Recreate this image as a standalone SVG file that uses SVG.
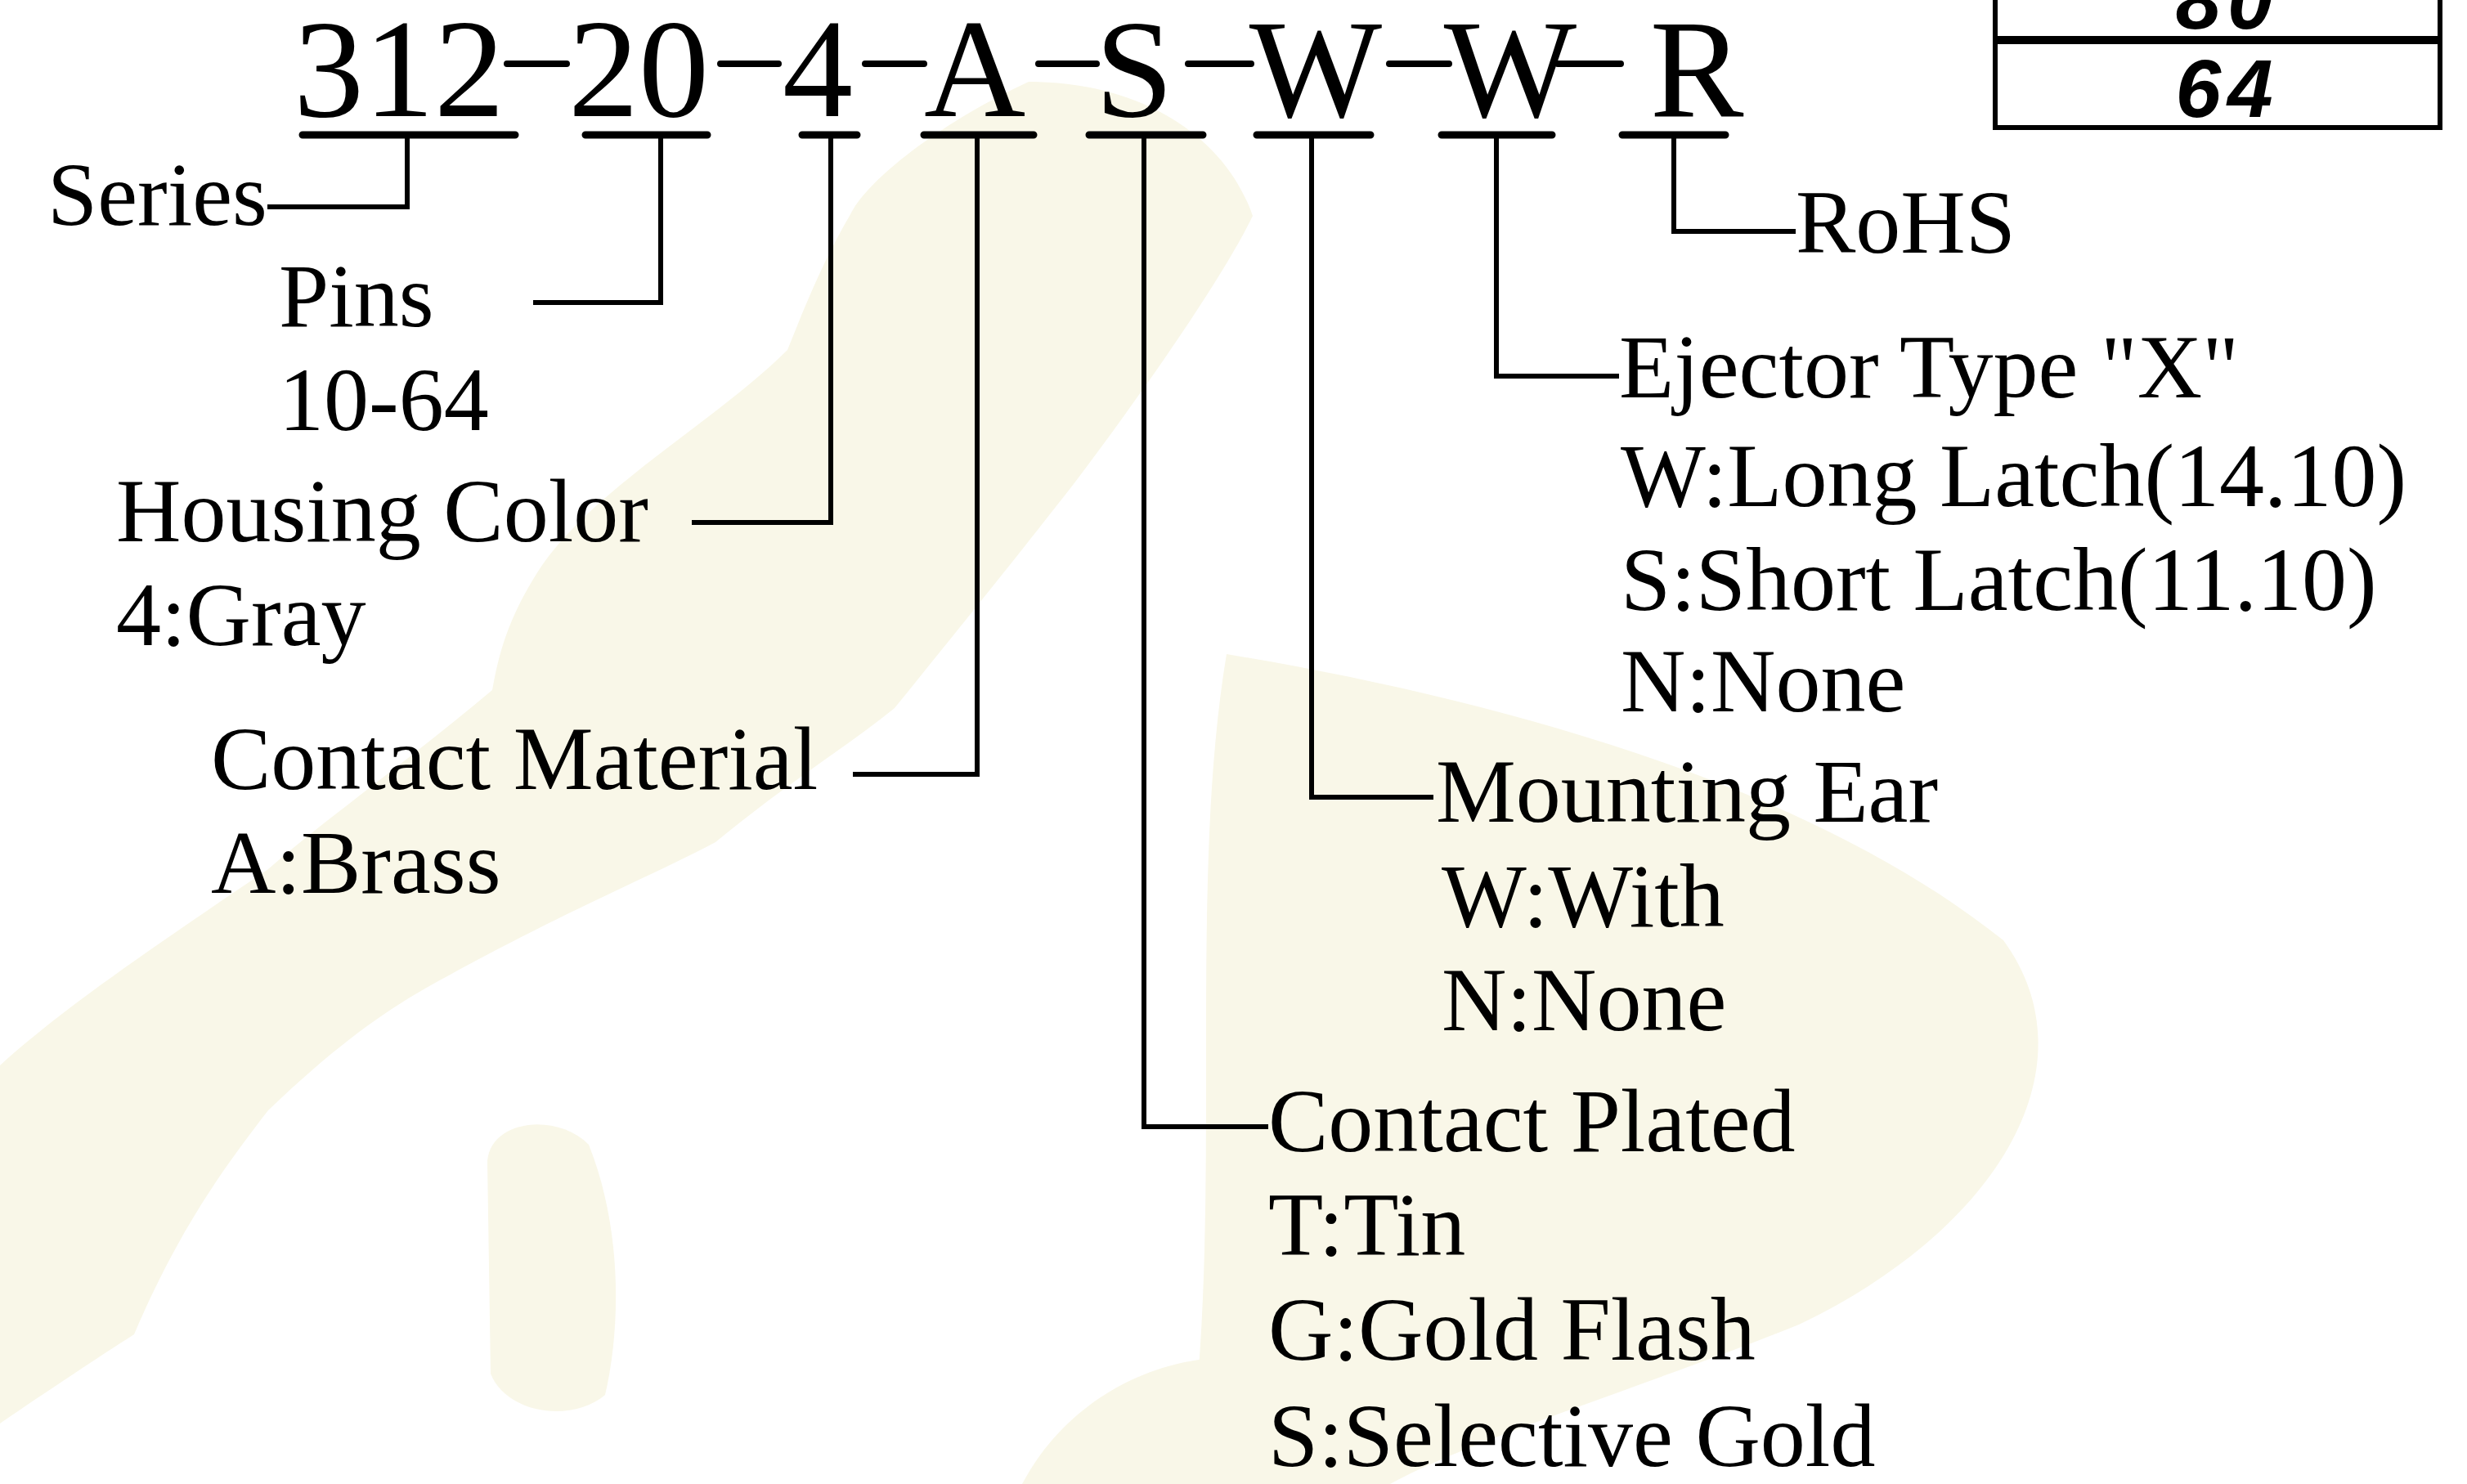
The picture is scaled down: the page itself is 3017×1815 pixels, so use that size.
<svg xmlns="http://www.w3.org/2000/svg" width="3017" height="1815" viewBox="0 0 3017 1815">
<style>
.pn{font-family:"Liberation Serif","Times New Roman",serif;font-size:172px;fill:#000;text-anchor:middle}
.lb{font-family:"Liberation Serif","Times New Roman",serif;font-size:110px;fill:#000}
.tb{font-family:"Liberation Sans",Arial,sans-serif;font-size:100px;font-weight:bold;font-style:italic;fill:#000;text-anchor:middle;letter-spacing:8px}
.ul{stroke:#000;stroke-width:9;stroke-linecap:round;fill:none}
.ds{stroke:#000;stroke-width:8;stroke-linecap:round;fill:none}
.cn{stroke:#000;stroke-width:6;fill:none;stroke-linejoin:miter}
.wm{fill:#F9F7E8;stroke:none}
</style>
<rect x="0" y="0" width="3017" height="1815" fill="#FFFFFF"/>
<g id="watermark">
<path class="wm" d="M1258,100 C1150,150 1060,220 1039,264 C1000,330 975,400 963,428 C870,520 720,600 656,702 C620,760 610,800 602,844 C500,930 400,1000 328,1063 C200,1150 80,1230 0,1303 L0,1741 C60,1700 120,1660 164,1632 C220,1500 280,1420 328,1358 C420,1270 480,1230 547,1194 C700,1110 800,1070 875,1030 C960,960 1040,910 1094,866 C1180,760 1260,660 1313,592 C1420,450 1500,330 1532,264 C1500,170 1400,100 1258,100 Z"/>
<path class="wm" d="M1500,800 C1800,850 2200,950 2450,1150 C2560,1300 2450,1500 2200,1620 C2000,1700 1800,1760 1700,1815 L1450,1815 C1500,1500 1450,1100 1500,800 Z"/>
<path class="wm" d="M596,1420 C600,1370 680,1360 720,1400 C760,1500 760,1620 740,1706 C700,1740 620,1730 600,1680 Z"/>
<path class="wm" d="M1250,1815 C1300,1720 1400,1660 1508,1660 L1508,1815 Z"/>
</g>
<g id="connectors">
<path class="ds" d="M620,78 H693 M881,78 H952 M1058,78 H1130 M1270,78 H1341 M1453,78 H1530 M1699,78 H1772 M1905,78 H1982"/>
<path class="ul" d="M370,165 H630 M716,165 H865 M981,165 H1048 M1130,165 H1264 M1332,165 H1471 M1537,165 H1676 M1763,165 H1898 M1984,165 H2110"/>
<path class="cn" d="M498,165 V253 H327"/>
<path class="cn" d="M808,165 V370 H652"/>
<path class="cn" d="M1016,165 V639 H846"/>
<path class="cn" d="M1195,165 V947 H1043"/>
<path class="cn" d="M1399,165 V1378 H1551"/>
<path class="cn" d="M1604,165 V975 H1753"/>
<path class="cn" d="M1830,165 V460 H1980"/>
<path class="cn" d="M2047,165 V283 H2196"/>
</g>
<g id="part-number">
<text class="pn" x="488" y="142">312</text>
<text class="pn" x="781" y="142">20</text>
<text class="pn" x="1000" y="142">4</text>
<text class="pn" x="1192" y="142">A</text>
<text class="pn" x="1387" y="142">S</text>
<text class="pn" x="1609" y="142">W</text>
<text class="pn" x="1847" y="142">W</text>
<text class="pn" x="2075" y="142">R</text>
</g>
<g id="node-series"><text class="lb" x="58" y="275">Series</text></g>
<g id="node-pins"><text class="lb" x="341" y="399">Pins</text><text class="lb" x="341" y="526">10-64</text></g>
<g id="node-housing"><text class="lb" x="142" y="662">Housing Color</text><text class="lb" x="142" y="789">4:Gray</text></g>
<g id="node-material"><text class="lb" x="258" y="965">Contact Material</text><text class="lb" x="258" y="1092">A:Brass</text></g>
<g id="node-plated"><text class="lb" x="1551" y="1408">Contact Plated</text><text class="lb" x="1551" y="1535">T:Tin</text><text class="lb" x="1551" y="1663">G:Gold Flash</text><text class="lb" x="1551" y="1793">S:Selective Gold</text></g>
<g id="node-ear"><text class="lb" x="1756" y="1005">Mounting Ear</text><text class="lb" x="1763" y="1133">W:With</text><text class="lb" x="1763" y="1260">N:None</text></g>
<g id="node-ejector"><text class="lb" x="1980" y="486">Ejector Type "X"</text><text class="lb" x="1982" y="619">W:Long Latch(14.10)</text><text class="lb" x="1982" y="746">S:Short Latch(11.10)</text><text class="lb" x="1982" y="870">N:None</text></g>
<g id="node-rohs"><text class="lb" x="2196" y="309">RoHS</text></g>
<g id="table">
<path d="M2440,-5 V156 H2984 V-5" stroke="#000" stroke-width="6" fill="none"/>
<line x1="2440" y1="49" x2="2984" y2="49" stroke="#000" stroke-width="10"/>
<text class="tb" x="2724" y="35">80</text>
<text class="tb" x="2724" y="143">64</text>
</g>
</svg>
